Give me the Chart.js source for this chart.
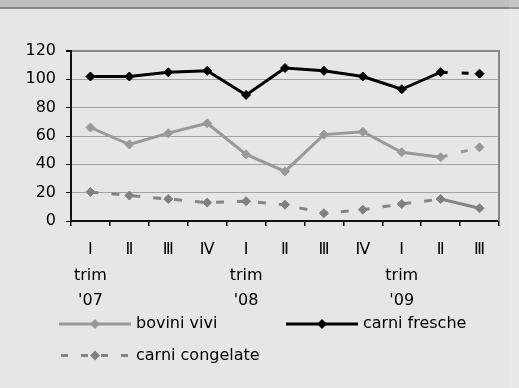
<!DOCTYPE html>
<html>
<head>
<meta charset="utf-8">
<script src="https://cdn.jsdelivr.net/npm/chart.js@4/dist/chart.umd.min.js"></script>
<style>
    body { margin: 0; background: #e6e6e6; }
    #band { position: absolute; left: 0; top: 0; width: 519px; height: 7px; background: #bfbfbf; border-bottom: 2px solid #868686; }
    #edge { position: absolute; left: 509px; top: 0; width: 10px; height: 388px; background: rgba(255, 255, 255, 0.12); }
    #wrap { position: absolute; left: 0; top: 0; width: 519px; height: 388px; }
</style>
</head>
<body>
<div id="band"></div>
<div id="edge"></div>
<div id="wrap"><canvas id="graph1"></canvas></div>
<script>
"use strict"

const quarters = [['Ⅰ', 'trim', "'07"], 'Ⅱ', 'Ⅲ', 'Ⅳ', ['Ⅰ', 'trim', "'08"], 'Ⅱ', 'Ⅲ', 'Ⅳ', ['Ⅰ', 'trim', "'09"], 'Ⅱ', 'Ⅲ'];
const boviniVivi = [66, 54, 62, 69, 47, 35, 61, 63, 48.5, 45, 52];
const carniFresche = [102, 102, 105, 106, 89, 108, 106, 102, 93, 105, 104];
const carniCongelate = [20.5, 18, 15.5, 13, 14, 11.5, 5.5, 8, 12, 15.5, 9];
const yTicks = [0, 20, 40, 60, 80, 100, 120];

const lastSeg = quarters.length - 1;
const dashed = [7, 14];

Chart.defaults.font.family = 'DejaVu Sans';
Chart.defaults.font.size = 16;
Chart.defaults.color = '#000';

// legend drawn by hand: two columns, line sample with marker in the middle
const legendItems = [
    { dataset: 0, x: 59, y: 324, dash: [] },
    { dataset: 1, x: 286, y: 324, dash: [] },
    { dataset: 2, x: 59, y: 355.5, dash: [7, 13] }
];

const handLegend = {
    id: 'handLegend',
    afterDraw(chart) {
        const ctx = chart.ctx;
        ctx.save();
        legendItems.forEach(item => {
            const ds = chart.data.datasets[item.dataset];
            ctx.strokeStyle = ds.borderColor;
            ctx.lineWidth = 3;
            ctx.setLineDash(item.dash);
            ctx.beginPath();
            ctx.moveTo(item.x + (item.dash.length ? 2 : 0), item.y);
            ctx.lineTo(item.x + 72, item.y);
            ctx.stroke();
            ctx.setLineDash([]);
            const mx = item.x + 36, r = 5;
            ctx.fillStyle = ds.pointBackgroundColor;
            ctx.beginPath();
            ctx.moveTo(mx - r, item.y);
            ctx.lineTo(mx, item.y - r);
            ctx.lineTo(mx + r, item.y);
            ctx.lineTo(mx, item.y + r);
            ctx.closePath();
            ctx.fill();
            ctx.fillStyle = '#000';
            ctx.font = '16px "DejaVu Sans"';
            ctx.textBaseline = 'middle';
            ctx.fillText(ds.label, item.x + 77, item.y);
        });
        ctx.restore();
    }
};

const rightBorder = {
    id: 'rightBorder',
    beforeDatasetsDraw(chart) {
        const a = chart.chartArea, ctx = chart.ctx;
        ctx.save();
        ctx.strokeStyle = '#888';
        ctx.lineWidth = 2;
        ctx.beginPath();
        ctx.moveTo(a.right, a.top - 1);
        ctx.lineTo(a.right, a.bottom);
        ctx.stroke();
        ctx.restore();
    }
};

const plotData = {
    labels: quarters,
    datasets: [
        {
            label: 'bovini vivi',
            data: boviniVivi,
            borderColor: '#999999',
            pointBackgroundColor: '#999999',
            pointBorderColor: '#999999',
            segment: { borderDash: c => c.p1DataIndex === lastSeg ? dashed : undefined }
        },
        {
            label: 'carni fresche',
            data: carniFresche,
            borderColor: '#000000',
            pointBackgroundColor: '#000000',
            pointBorderColor: '#000000',
            segment: { borderDash: c => c.p1DataIndex === lastSeg ? dashed : undefined }
        },
        {
            label: 'carni congelate',
            data: carniCongelate,
            borderColor: '#858585',
            pointBackgroundColor: '#808080',
            pointBorderColor: '#808080',
            borderDash: [8, 13],
            segment: { borderDash: c => c.p1DataIndex === lastSeg ? [] : [8, 13] }
        }
    ]
};

const config = {
    type: 'line',
    data: plotData,
    options: {
        responsive: true,
        maintainAspectRatio: false,
        animation: false,
        layout: { padding: { top: 51, right: 20, bottom: 67, left: 0 } },
        elements: {
            line: { borderWidth: 3, tension: 0 },
            point: { pointStyle: 'rectRot', radius: 4.5, borderWidth: 1 }
        },
        plugins: {
            legend: { display: false },
            tooltip: { enabled: false }
        },
        scales: {
            x: {
                offset: true,
                afterFit: s => { s.height = 100; },
                grid: {
                    offset: true,
                    drawOnChartArea: false,
                    tickLength: 5,
                    tickColor: '#000',
                    lineWidth: 1.5
                },
                border: { color: '#111', width: 2 },
                ticks: {
                    padding: 11,
                    maxRotation: 0,
                    autoSkip: false,
                    font: { size: 16, lineHeight: 1.6 }
                }
            },
            y: {
                min: 0,
                max: 120,
                afterFit: s => { s.width = 71; },
                afterBuildTicks: s => { s.ticks = yTicks.map(v => ({ value: v })); },
                grid: {
                    color: c => c.tick.value === 120 ? '#888' : '#a3a3a3',
                    lineWidth: c => c.tick.value === 120 ? 2 : 1,
                    tickLength: 5,
                    tickColor: '#000'
                },
                border: { color: '#111', width: 2 },
                ticks: { padding: 10 }
            }
        }
    },
    plugins: [rightBorder, handLegend]
};

const canvas = document.getElementById('graph1').getContext('2d');
const chart1 = new Chart(canvas, config);
</script>
</body>
</html>
